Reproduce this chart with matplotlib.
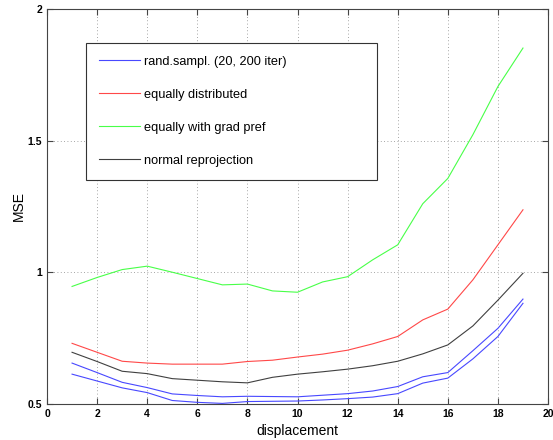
import matplotlib
matplotlib.use("Agg")
import matplotlib.pyplot as plt

plt.rcParams['font.family'] = ['Liberation Sans', 'DejaVu Sans']

# displacement values
x = [1, 2, 3, 4, 5, 6, 7, 8, 9, 10, 11, 12, 13, 14, 15, 16, 17, 18, 19]

# rand.sampl. - two runs, upper and lower
rand_upper = [0.655, 0.619, 0.582, 0.562, 0.538, 0.532, 0.527, 0.529, 0.528, 0.527,
              0.533, 0.539, 0.549, 0.566, 0.603, 0.619, 0.702, 0.787, 0.898]
rand_lower = [0.613, 0.587, 0.561, 0.543, 0.513, 0.506, 0.502, 0.509, 0.510, 0.511,
              0.515, 0.520, 0.526, 0.539, 0.579, 0.598, 0.671, 0.756, 0.882]
equally = [0.730, 0.696, 0.662, 0.655, 0.651, 0.651, 0.651, 0.661, 0.666, 0.678,
           0.689, 0.704, 0.728, 0.756, 0.819, 0.860, 0.971, 1.104, 1.237]
grad_pref = [0.946, 0.980, 1.010, 1.023, 1.000, 0.976, 0.952, 0.955, 0.929, 0.924,
             0.963, 0.983, 1.047, 1.104, 1.260, 1.356, 1.522, 1.705, 1.851]
normal = [0.696, 0.661, 0.624, 0.615, 0.596, 0.590, 0.584, 0.580, 0.601, 0.613,
          0.622, 0.632, 0.645, 0.662, 0.690, 0.724, 0.796, 0.894, 0.996]

labels = ["rand.sampl. (20, 200 iter)", "equally distributed",
          "equally with grad pref", "normal reprojection"]

fig = plt.figure(figsize=(5.53, 4.4), dpi=100)
ax = fig.add_axes([0.085, 0.082, 0.906, 0.898])

lw = 0.8
ax.plot(x, rand_upper, color="#4848ff", lw=lw, label=labels[0])
ax.plot(x, rand_lower, color="#4848ff", lw=lw)
ax.plot(x, equally, color="#ff4848", lw=lw, label=labels[1])
ax.plot(x, grad_pref, color="#48ff48", lw=lw, label=labels[2])
ax.plot(x, normal, color="#404040", lw=lw, label=labels[3])

ax.set_xlim(0, 20)
ax.set_ylim(0.5, 2)
ax.set_xticks(range(0, 21, 2))
ax.set_yticks([0.5, 1, 1.5, 2])
ax.set_yticklabels(["0.5", "1", "1.5", "2"])
ax.tick_params(direction="in", top=True, right=True, labelsize=7.5, length=4, width=0.8,
               color="#444444")
for lab in ax.get_xticklabels() + ax.get_yticklabels():
    lab.set_fontweight("bold")
ax.grid(True, linestyle=(0, (1, 3)), color="#888888", linewidth=0.6)
for s in ax.spines.values():
    s.set_color("#444444")
    s.set_linewidth(0.8)

ax.set_xlabel("displacement", fontsize=10, labelpad=4)
ax.set_ylabel("MSE", fontsize=10, labelpad=1.5)

# legend box is much wider than its text in the original
leg = ax.legend(loc="upper left", bbox_to_anchor=(0.078, 0.575, 0.581, 0.339),
                mode="expand", borderaxespad=0,
                fontsize=9.2, handlelength=3.2, labelspacing=1.65, borderpad=1.0,
                handletextpad=0.35, fancybox=False, framealpha=1, edgecolor="#333333")
leg.get_frame().set_linewidth(0.8)

fig.savefig("out.png", dpi=100)
